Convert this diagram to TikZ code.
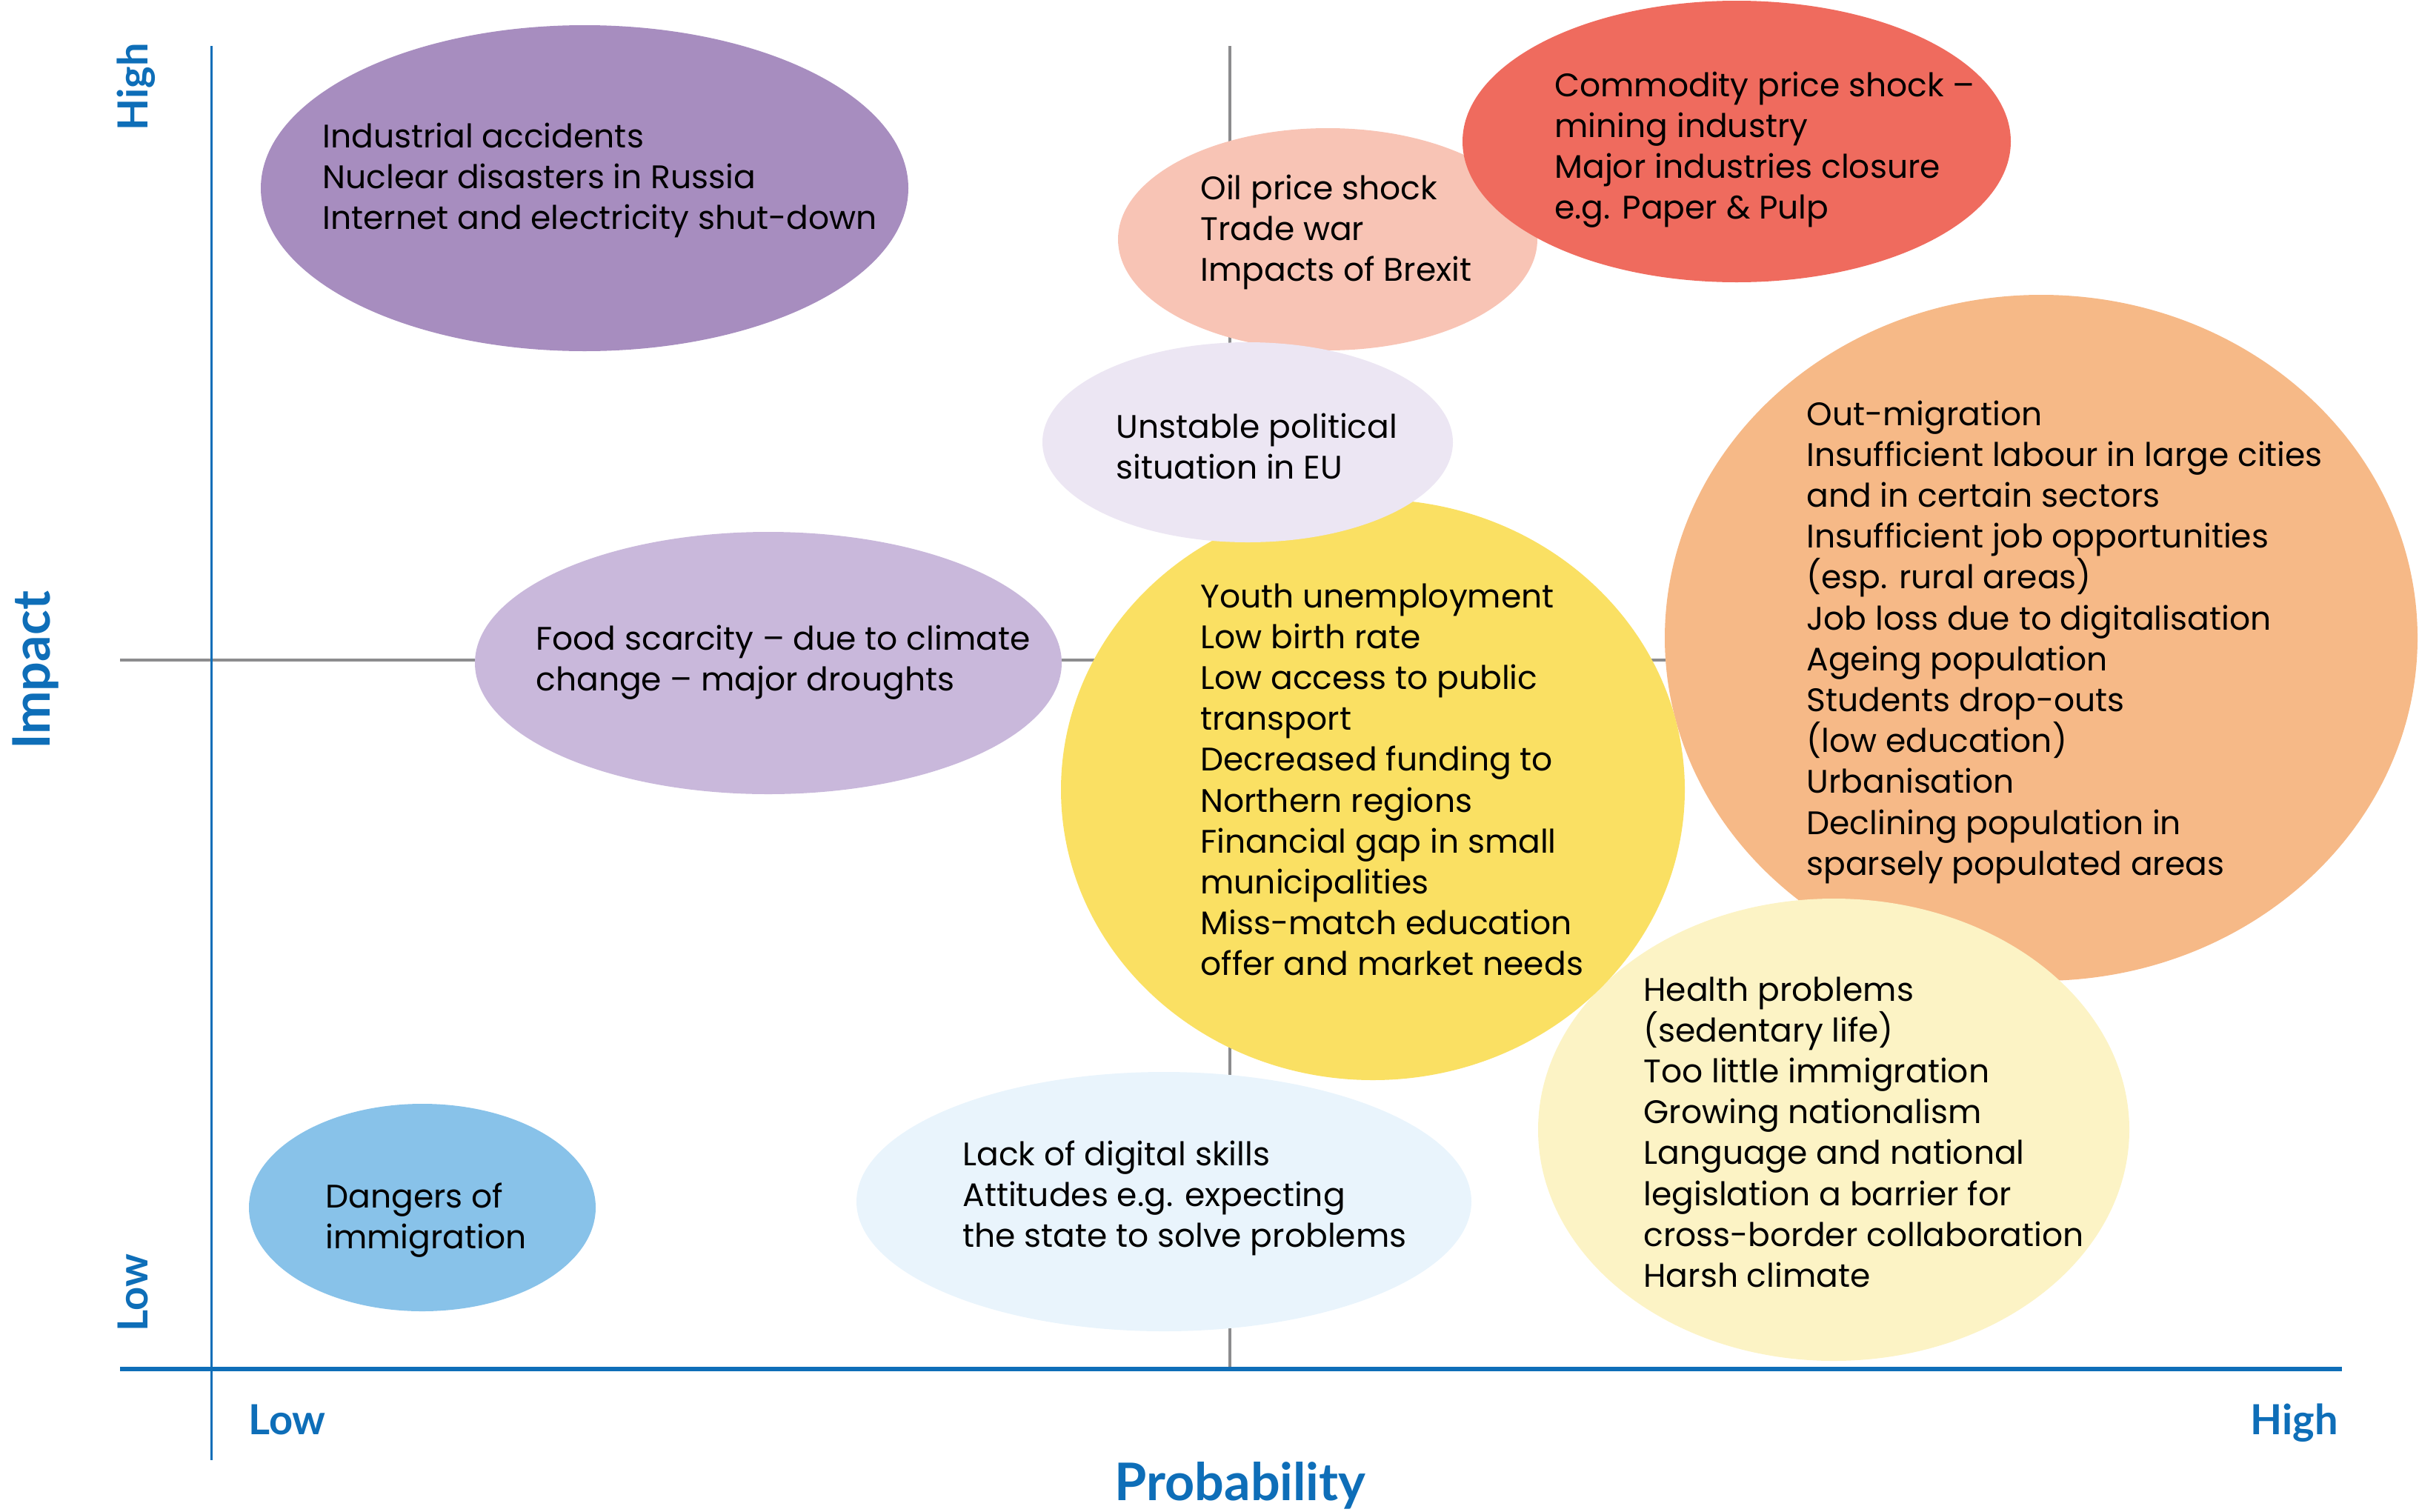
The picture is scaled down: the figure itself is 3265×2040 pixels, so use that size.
\documentclass[tikz,border=0pt]{standalone}
\usepackage{fontspec}
\setmainfont{Lato}
\newfontfamily\bodyfont{Poppins}
\usetikzlibrary{shapes.geometric}
\definecolor{axisblue}{RGB}{14,110,184}
\definecolor{midgray}{RGB}{140,140,142}
\definecolor{cPurple}{RGB}{167,141,191}
\definecolor{cPink}{RGB}{248,196,181}
\definecolor{cRed}{RGB}{239,107,94}
\definecolor{cLavender}{RGB}{236,230,243}
\definecolor{cLightPurple}{RGB}{201,184,219}
\definecolor{cYellow}{RGB}{250,224,99}
\definecolor{cOrange}{RGB}{246,185,135}
\definecolor{cLightYellow}{RGB}{252,243,197}
\definecolor{cBlue}{RGB}{136,194,233}
\definecolor{cLightBlue}{RGB}{233,244,252}
\tikzset{
  bubble/.style={ellipse, draw=none, inner sep=0pt, outer sep=0pt},
  txt/.style={anchor=base west, inner sep=0pt, font=\bodyfont\fontsize{22}{27}\selectfont, text=black},
  axlabel/.style={inner sep=0pt, text=axisblue, font=\bfseries\fontsize{28}{32}\selectfont},
  bigaxlabel/.style={inner sep=0pt, text=axisblue, font=\bfseries\fontsize{35}{40}\selectfont},
  blueaxis/.style={draw=axisblue},
  grayaxis/.style={draw=midgray, line width=2pt},
}
\newcommand\bubtxt[4]{\foreach \t [count=\i from 0] in {#4} {\node[txt] (#1-\i) at (#2,{#3+55.2*\i}) {\t};}}
\begin{document}
\begin{tikzpicture}[x=0.5pt,y=-0.5pt]
\useasboundingbox (0,0) rectangle (3265,2040);
% axes coordinates
\coordinate (hgL) at (162,891);
\coordinate (hgR) at (3161,891);
\coordinate (vgT) at (1660,62);
\coordinate (vgB) at (1660,1848);
\coordinate (vbT) at (285,62);
\coordinate (vbB) at (285,1971);
\coordinate (hbL) at (162,1848);
\coordinate (hbR) at (3161,1848);
\draw[grayaxis] (hgL) -- (hgR);
\draw[grayaxis] (vgT) -- (vgB);
\draw[blueaxis, line width=1.5pt] (vbT) -- (vbB);
\draw[blueaxis, line width=3pt] (hbL) -- (hbR);
% bubbles
\node[bubble, fill=cPurple, minimum width=437pt, minimum height=220pt] (purple) at (789,254) {};
\node[bubble, fill=cLightPurple, minimum width=396pt, minimum height=177pt] (lightpurple) at (1037,895) {};
\node[bubble, fill=cBlue, minimum width=234pt, minimum height=140pt] (blue) at (570,1630) {};
\node[bubble, fill=cLightBlue, minimum width=415pt, minimum height=175pt] (lightblue) at (1571,1622) {};
\node[bubble, fill=cPink, minimum width=283pt, minimum height=150pt] (pink) at (1792,323) {};
\node[bubble, fill=cRed, minimum width=370pt, minimum height=190pt] (red) at (2344,191) {};
\node[bubble, fill=cOrange, minimum width=508pt, minimum height=463pt] (orange) at (2755,861) {};
\node[bubble, fill=cLightYellow, minimum width=399pt, minimum height=312pt] (lightyellow) at (2475,1525) {};
\node[bubble, fill=cYellow, minimum width=421pt, minimum height=392pt] (yellow) at (1853,1066) {};
\node[bubble, fill=cLavender, minimum width=277pt, minimum height=135pt] (lavender) at (1684,597) {};
% texts
\bubtxt{tpurple}{435}{199}{Industrial accidents, Nuclear disasters in Russia, Internet and electricity shut-down}
\bubtxt{tpink}{1620}{269}{Oil price shock, Trade war, Impacts of Brexit}
\bubtxt{tred}{2098}{130}{Commodity price shock –, mining industry, Major industries closure, e.g. Paper \& Pulp}
\bubtxt{tlavender}{1506}{591}{Unstable political, situation in EU}
\bubtxt{tlightpurple}{723}{877}{Food scarcity – due to climate, change – major droughts}
\bubtxt{tyellow}{1620}{820}{Youth unemployment, Low birth rate, Low access to public, transport, Decreased funding to, Northern regions, Financial gap in small, municipalities, Miss-match education, offer and market needs}
\bubtxt{torange}{2438}{574}{Out-migration, Insufficient labour in large cities, and in certain sectors, Insufficient job opportunities, (esp. rural areas), Job loss due to digitalisation, Ageing population, Students drop-outs, (low education), Urbanisation, Declining population in, sparsely populated areas}
\bubtxt{tlightyellow}{2218}{1351}{Health problems, (sedentary life), Too little immigration, Growing nationalism, Language and national, legislation a barrier for, cross-border collaboration, Harsh climate}
\bubtxt{tblue}{439}{1630}{Dangers of, immigration}
\bubtxt{tlightblue}{1299}{1573}{Lack of digital skills, Attitudes e.g. expecting, the state to solve problems}
% axis labels
\node[axlabel, rotate=90, anchor=base] (yhigh) at (199,117) {High};
\node[axlabel, rotate=90, anchor=base] (ylow) at (199,1745) {Low};
\node[bigaxlabel, rotate=90, anchor=base] (yname) at (67,905) {Impact};
\node[axlabel, anchor=base west] (xlow) at (335,1936) {Low};
\node[axlabel, anchor=base east] (xhigh) at (3156,1936) {High};
\node[bigaxlabel, anchor=base] (xname) at (1674,2025) {Probability};
\end{tikzpicture}
\end{document}
